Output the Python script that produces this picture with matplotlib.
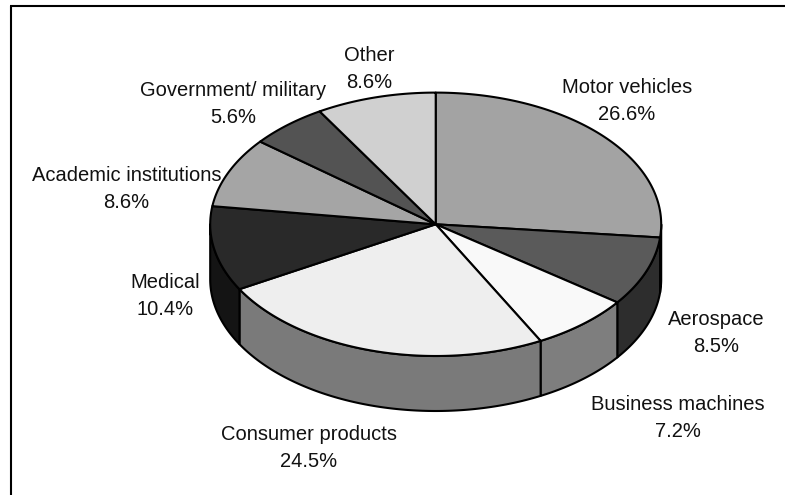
import numpy as np
import matplotlib
matplotlib.use("Agg")
import matplotlib.pyplot as plt

plt.rcParams['font.family'] = ['Liberation Sans', 'DejaVu Sans']

categories = ["Motor vehicles", "Aerospace", "Business machines", "Consumer products",
              "Medical", "Academic institutions", "Government/ military", "Other"]
shares = [26.6, 8.5, 7.2, 24.5, 10.4, 8.6, 5.6, 8.6]
top_greys = ["#a3a3a3", "#5a5a5a", "#f9f9f9", "#eeeeee", "#292929", "#a5a5a5", "#535353", "#d0d0d0"]
side_greys = ["#6a6a6a", "#2d2d2d", "#7e7e7e", "#7a7a7a", "#141414", "#6a6a6a", "#2a2a2a", "#888888"]
label_xy = [(627, 101), (716, 333), (678, 418), (309, 448), (165, 296), (126.5, 189), (233.5, 104), (369, 69)]

cx, cy = 435.7, 224.3
rx, ry = 225.5, 131.7
depth = 55

fig = plt.figure(figsize=(7.85, 4.95), dpi=100)
ax = fig.add_axes([0, 0, 1, 1])
ax.set_xlim(0, 785)
ax.set_ylim(495, 0)
ax.axis("off")

# frame is only there on top and left
ax.plot([11, 11], [495, 6], color="black", lw=1.5, solid_capstyle="butt")
ax.plot([10, 785], [6, 6], color="black", lw=1.5, solid_capstyle="butt")


def rim(a0, a1, n=120):
    t = np.radians(np.linspace(a0, a1, n))
    return cx + rx*np.sin(t), cy - ry*np.cos(t)


edges = 360*np.cumsum([0] + shares)/sum(shares)

# side wall, only the front half of the pie shows
for i in range(len(shares)):
    a0 = max(edges[i], 90)
    a1 = min(edges[i+1], 270)
    if a1 <= a0:
        continue
    x, y = rim(a0, a1)
    ax.fill(np.r_[x, x[::-1]], np.r_[y, y[::-1] + depth], facecolor=side_greys[i],
            edgecolor="black", lw=1.5, joinstyle="round", zorder=2)

# top face
for i in range(len(shares)):
    x, y = rim(edges[i], edges[i+1])
    ax.fill(np.r_[cx, x], np.r_[cy, y], facecolor=top_greys[i],
            edgecolor="black", lw=1.5, joinstyle="round", zorder=3)

for name, val, (lx, ly) in zip(categories, shares, label_xy):
    ax.text(lx, ly, f"{name}\n{val}%", ha="center", va="center", fontsize=14.5,
            color="#111111", linespacing=1.56, zorder=4)

fig.savefig("out.png", dpi=100)
